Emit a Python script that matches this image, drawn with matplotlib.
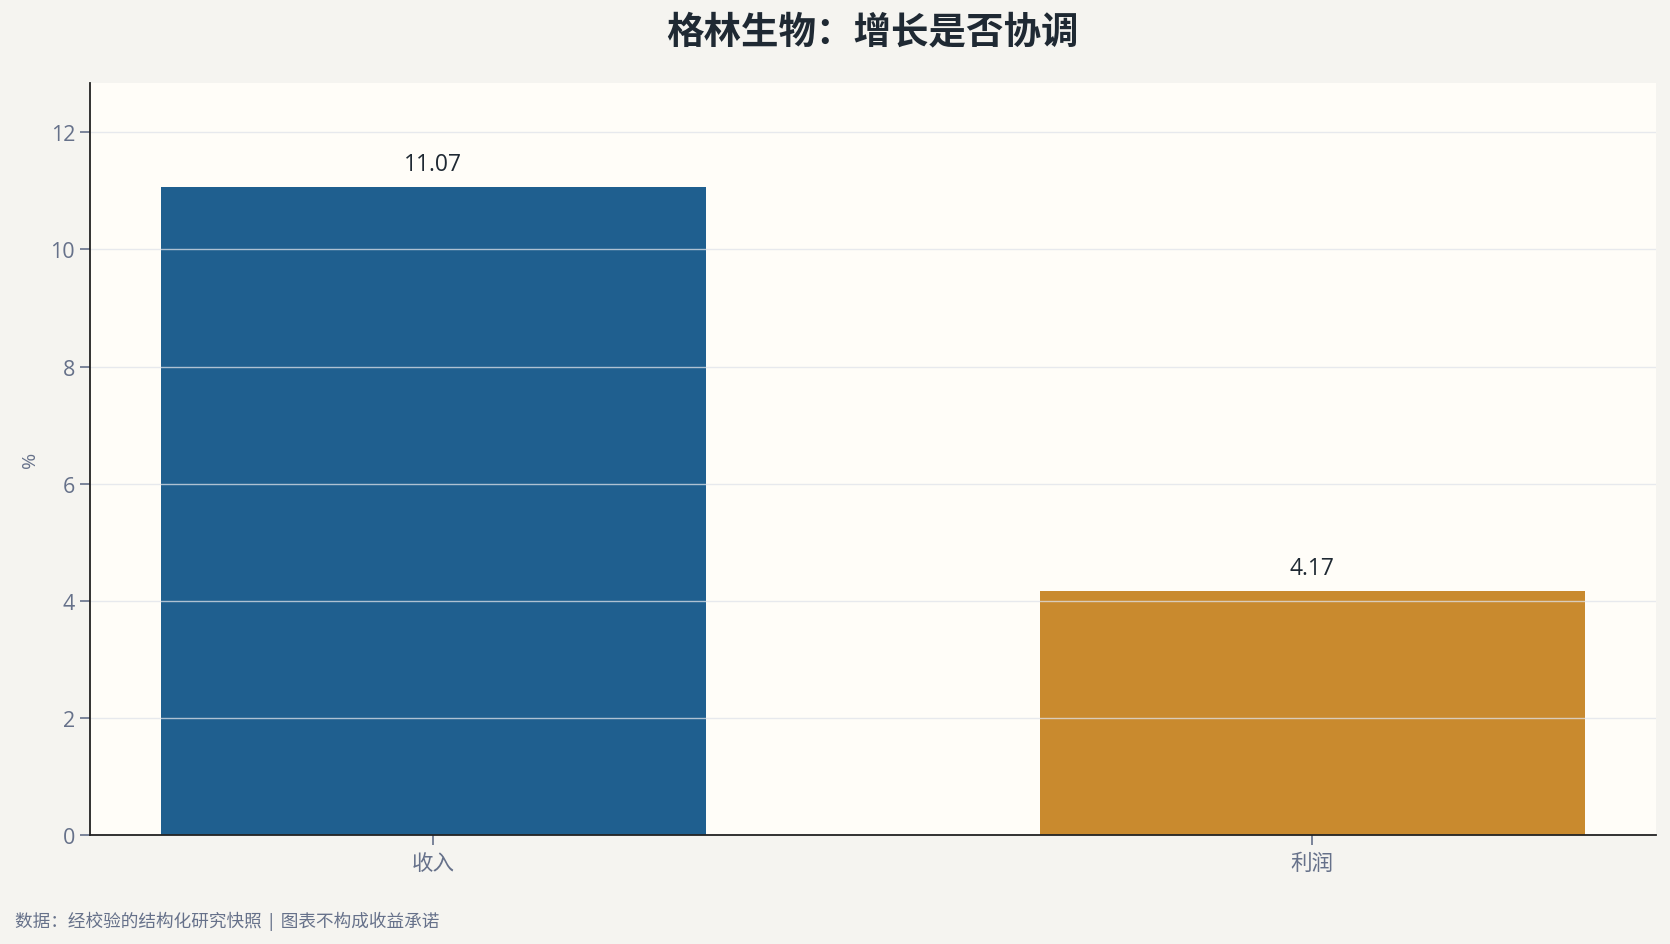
import matplotlib
matplotlib.use("Agg")
import matplotlib.pyplot as plt

plt.rcParams['font.family'] = ['Open Sans', 'Noto Sans CJK SC', 'DejaVu Sans']

categories = ["收入", "利润"]
values = [11.07, 4.17]
bar_colors = ["#1f5f8f", "#c98a2e"]
title = "格林生物：增长是否协调"
ylabel = "%"
footer = "数据：经校验的结构化研究快照 | 图表不构成收益承诺"

fig = plt.figure(figsize=(16.7, 9.45), dpi=100, facecolor="#f5f4f0")
ax = fig.add_axes([0.0536, 0.1155, 0.938, 0.7955])
ax.set_facecolor("#fffdf8")

x = list(range(len(categories)))
bars = ax.bar(x, values, width=0.62, color=bar_colors, zorder=2)
ax.set_xticks(x)
ax.set_xticklabels(categories)
ax.set_ylim(0, max(values) * 1.16)
ax.set_yticks([0, 2, 4, 6, 8, 10, 12])

ax.grid(axis="y", color="#dfe3ea", linewidth=1.0, alpha=0.75, zorder=3)
ax.set_axisbelow(False)
for s in ["top", "right"]:
    ax.spines[s].set_visible(False)
for s in ["left", "bottom"]:
    ax.spines[s].set_color("#222222")
    ax.spines[s].set_linewidth(1.3)
    ax.spines[s].set_zorder(4)

ax.tick_params(axis="both", colors="#66718a", labelsize=15.5, length=7, width=1.2)
ax.tick_params(axis="x", labelsize=15.5, pad=6)
ax.set_ylabel(ylabel, color="#66718a", fontsize=14, labelpad=8)

for xi, v in zip(x, values):
    ax.annotate(f"{v:.2f}", (xi, v), xytext=(0, 8), textcoords="offset points",
                ha="center", va="bottom", fontsize=16.5, color="#1f2933", zorder=5)

fig.text(0.5225, 0.966, title, ha="center", va="center", fontsize=27,
         fontweight="bold", color="#1f2933",
         family=['Noto Sans CJK SC', 'DejaVu Sans'])
fig.text(0.009, 0.025, footer, ha="left", va="center", fontsize=12.7, color="#66718a")

fig.savefig("out.png", dpi=100, facecolor=fig.get_facecolor())
